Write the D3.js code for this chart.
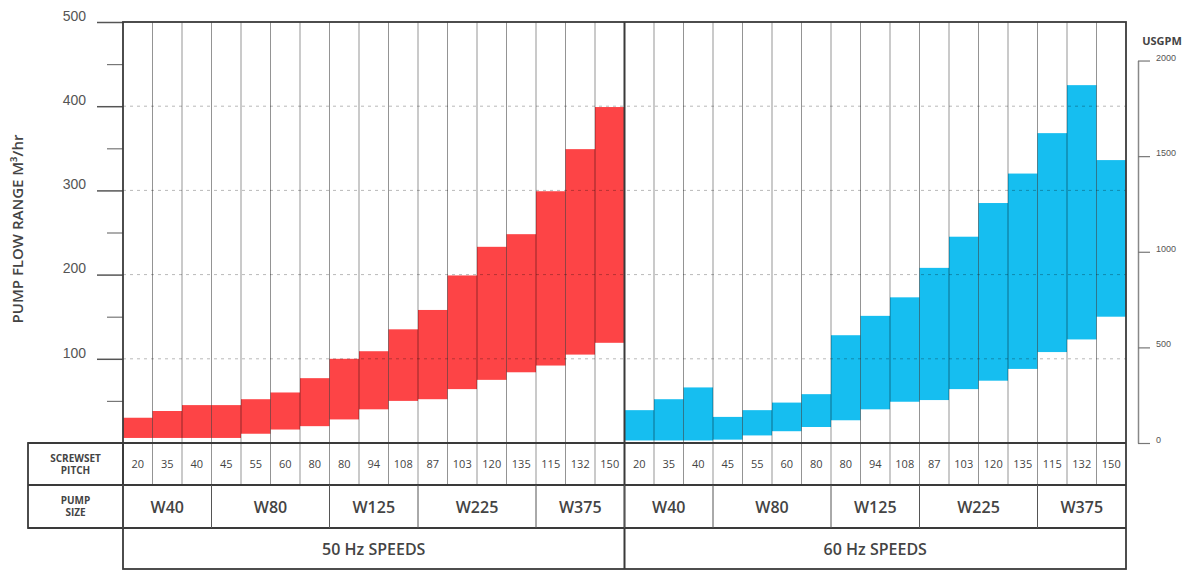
<!DOCTYPE html>
<html>
<head>
<meta charset="utf-8">
<script src="https://cdn.jsdelivr.net/npm/d3@7/dist/d3.min.js"></script>
<style>
    html, body { margin: 0; padding: 0; background: #fff; }
    svg { display: block; font-family: "Open Sans", "DejaVu Sans", sans-serif; }
</style>
</head>
<body>
<svg id="chart" width="1197" height="571"></svg>
<script>
"use strict";
/*global d3*/

// screwset pitch per column (same order at both speeds)
var pitches = [20, 35, 40, 45, 55, 60, 80, 80, 94, 108, 87, 103, 120, 135, 115, 132, 150];
var pumpSizes = ["W40", "W80", "W125", "W225", "W375"];
var pumpSpans = [3, 4, 3, 4, 3];
var speeds = ["50 Hz SPEEDS", "60 Hz SPEEDS"];

// flow range, m3/hr (low / high edge of each bar)
var low50 = [6, 6, 6, 6, 11, 16, 20, 28, 40, 50, 52, 64, 75, 84, 92, 105, 119];
var high50 = [30, 38, 45, 45, 52, 60, 77, 100, 109, 135, 158, 199, 233, 248, 299, 349, 399];
var low60 = [3, 3, 3, 4, 9, 14, 19, 27, 40, 49, 51, 64, 74, 88, 108, 123, 150];
var high60 = [39, 52, 66, 31, 39, 48, 58, 128, 151, 173, 208, 245, 285, 320, 368, 425, 336];

var flowTicks = [100, 200, 300, 400, 500];
var flowMinor = [50, 150, 250, 350, 450];
var gpmTicks = [0, 500, 1000, 1500, 2000];
var GPM_PER_M3H = 4.403;

var LEFT = 123, RIGHT = 1126, TOP = 22, BASE = 443,
    ROW1 = 485, ROW2 = 528, ROW3 = 569, LABEL_X = 28,
    RED = "#fd4446", BLUE = "#16bef0", INK = "#3a3a3a";

var svg = d3.select("#chart");
var n = pitches.length;

var x = d3.scaleBand()
    .domain(d3.range(n * 2))
    .range([LEFT, RIGHT])
    .padding(0);

var y = d3.scaleLinear().domain([0, 500]).range([BASE, TOP]);

var gpm = d3.scaleLinear()
    .domain([0, 2000])
    .range([BASE, y(2000 / GPM_PER_M3H)]);

function colData(lows, highs, offset, color) {
    return lows.map(function (lo, i) {
        return { i: offset + i, lo: lo, hi: highs[i], color: color };
    });
}

var bars = colData(low50, high50, 0, RED).concat(colData(low60, high60, n, BLUE));

svg.append("g").attr("class", "bars")
    .selectAll("rect").data(bars).enter().append("rect")
    .attr("x", function (d) { return x(d.i); })
    .attr("width", x.bandwidth())
    .attr("y", function (d) { return y(d.hi); })
    .attr("height", function (d) { return y(d.lo) - y(d.hi); })
    .attr("fill", function (d) { return d.color; });

// dotted horizontal grid
svg.append("g").selectAll("line").data(flowTicks.slice(0, 4)).enter().append("line")
    .attr("x1", LEFT).attr("x2", RIGHT)
    .attr("y1", function (d) { return y(d); })
    .attr("y2", function (d) { return y(d); })
    .attr("stroke", "#000").attr("stroke-opacity", 0.28)
    .attr("stroke-width", 1).attr("stroke-dasharray", "3,4");

// column separators through plot and pitch row
svg.append("g").selectAll("line").data(d3.range(1, n * 2)).enter().append("line")
    .attr("x1", function (d) { return x(d); })
    .attr("x2", function (d) { return x(d); })
    .attr("y1", TOP).attr("y2", ROW1)
    .attr("stroke", "#000").attr("stroke-opacity", 0.42)
    .attr("stroke-width", 1);

// left axis
var leftAxis = svg.append("g")
    .attr("transform", "translate(" + LEFT + ",0)")
    .call(d3.axisLeft(y).tickValues(flowTicks).tickSize(26).tickPadding(11));
leftAxis.select(".domain").remove();
leftAxis.selectAll(".tick line").attr("stroke", "#555").attr("stroke-width", 1.5);
leftAxis.selectAll("text")
    .attr("dy", "-0.12em")
    .attr("font-size", 14).attr("font-weight", 400).attr("fill", "#555");

svg.append("g")
    .attr("transform", "translate(" + LEFT + ",0)")
    .call(d3.axisLeft(y).tickValues(flowMinor).tickSize(16).tickFormat(""))
    .call(function (g) {
        g.select(".domain").remove();
        g.selectAll(".tick line").attr("stroke", "#777").attr("stroke-width", 1.2);
    });

svg.append("text")
    .attr("transform", "translate(23,229) rotate(-90)")
    .attr("text-anchor", "middle")
    .attr("font-size", 15).attr("font-weight", 600).attr("fill", "#444")
    .text("PUMP FLOW RANGE M³/hr");

// right axis, US gallons per minute
var rightAxis = svg.append("g")
    .attr("transform", "translate(1138,0)")
    .call(d3.axisRight(gpm).tickValues(gpmTicks).tickSize(12).tickSizeOuter(0)
        .tickPadding(6).tickFormat(d3.format("d")));
rightAxis.select(".domain").attr("stroke", "#888").attr("stroke-width", 1.5);
rightAxis.selectAll(".tick line").attr("stroke", "#777").attr("stroke-width", 1.2);
rightAxis.selectAll("text")
    .attr("dy", "-0.05em")
    .attr("font-size", 9).attr("fill", "#555");

svg.append("text")
    .attr("x", 1162).attr("y", 45)
    .attr("text-anchor", "middle")
    .attr("font-size", 11).attr("font-weight", 700).attr("fill", "#444")
    .text("USGPM");

// table frame
var frame = svg.append("g")
    .attr("fill", "none").attr("stroke", INK).attr("stroke-width", 1.8);
frame.append("rect").attr("x", LEFT).attr("y", TOP).attr("width", RIGHT - LEFT).attr("height", ROW3 - TOP);
frame.append("rect").attr("x", LABEL_X).attr("y", BASE).attr("width", LEFT - LABEL_X).attr("height", ROW2 - BASE);
[BASE, ROW1, ROW2].forEach(function (ry) {
    frame.append("line").attr("x1", LABEL_X).attr("x2", RIGHT).attr("y1", ry).attr("y2", ry);
});
frame.append("line")
    .attr("x1", x(n)).attr("x2", x(n))
    .attr("y1", TOP).attr("y2", ROW3)
    .attr("stroke-width", 2);

// pump size group boundaries
var groups = [], start = 0;
speeds.forEach(function (s, h) {
    start = h * n;
    pumpSizes.forEach(function (name, k) {
        groups.push({ name: name, a: start, b: start + pumpSpans[k] });
        start += pumpSpans[k];
    });
});

svg.append("g").selectAll("line").data(groups).enter().append("line")
    .attr("x1", function (d) { return x(d.a); })
    .attr("x2", function (d) { return x(d.a); })
    .attr("y1", ROW1).attr("y2", ROW2)
    .attr("stroke", "#555").attr("stroke-width", 1);

svg.append("g").selectAll("text").data(groups).enter().append("text")
    .attr("x", function (d) { return (x(d.a) + x(d.b - 1) + x.bandwidth()) / 2; })
    .attr("y", (ROW1 + ROW2) / 2 + 6)
    .attr("text-anchor", "middle")
    .attr("font-size", 16).attr("font-weight", 600).attr("fill", "#444")
    .text(function (d) { return d.name; });

// pitch values
svg.append("g").selectAll("text").data(d3.range(n * 2)).enter().append("text")
    .attr("x", function (d) { return x(d) + x.bandwidth() / 2; })
    .attr("y", (BASE + ROW1) / 2 + 4)
    .attr("text-anchor", "middle")
    .attr("font-size", 11).attr("fill", "#444")
    .text(function (d) { return pitches[d % n]; });

// speed captions
svg.append("g").selectAll("text").data(speeds).enter().append("text")
    .attr("x", function (d, i) { return (x(i * n) + x(i * n + n - 1) + x.bandwidth()) / 2; })
    .attr("y", (ROW2 + ROW3) / 2 + 6)
    .attr("text-anchor", "middle")
    .attr("font-size", 16).attr("font-weight", 600).attr("fill", "#444")
    .text(function (d) { return d; });

// row labels
var rowLabels = [["SCREWSET", "PITCH", BASE], ["PUMP", "SIZE", ROW1]];
rowLabels.forEach(function (r) {
    var t = svg.append("text")
        .attr("text-anchor", "middle")
        .attr("font-size", 10).attr("font-weight", 700).attr("fill", "#444");
    t.append("tspan").attr("x", (LABEL_X + LEFT) / 2).attr("y", r[2] + 19).text(r[0]);
    t.append("tspan").attr("x", (LABEL_X + LEFT) / 2).attr("y", r[2] + 31).text(r[1]);
});
</script>
</body>
</html>
